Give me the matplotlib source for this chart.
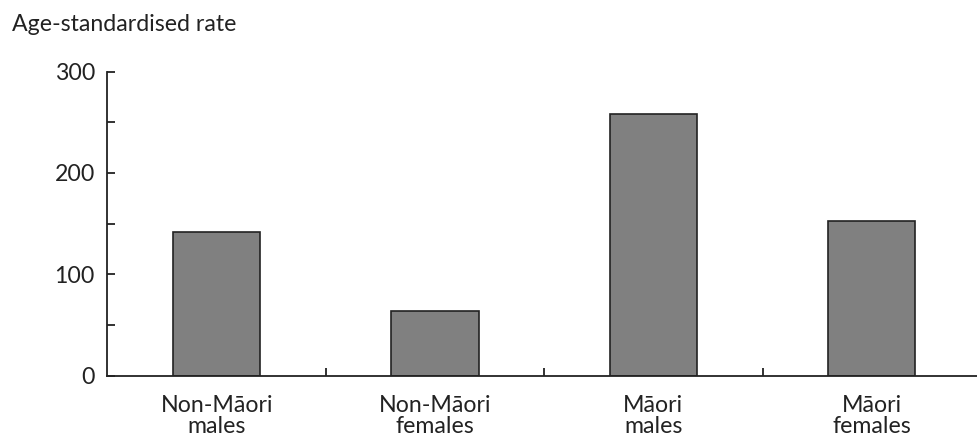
# bar chart of age-standardised rates by ethnicity and sex

import matplotlib
matplotlib.use('Agg')
import matplotlib.pyplot as plt
import numpy as np

# values
categories = ['Non-Māori\nmales', 'Non-Māori\nfemales', 'Māori\nmales', 'Māori\nfemales']
rates = [142, 64, 258, 152]
y_major = [0, 100, 200, 300]
y_minor = [50, 150, 250]

plt.rcParams['font.family'] = ['Lato', 'DejaVu Sans']
plt.rcParams['font.size'] = 16.7

fig = plt.figure(figsize=(9.77, 4.41), dpi=100)
ax = fig.add_axes([0.110, 0.1485, 0.894, 0.6893])

index = np.arange(len(categories))
ax.bar(index, rates, 0.4, color='#808080', edgecolor='#222222', linewidth=1.2)

ax.set_xlim(-0.5, len(categories) - 0.5)
ax.set_ylim(0, 300)

ax.spines['top'].set_visible(False)
ax.spines['right'].set_visible(False)
for s in ['left', 'bottom']:
    ax.spines[s].set_linewidth(1.3)
    ax.spines[s].set_color('#222222')

ax.set_yticks(y_major)
ax.set_yticks(y_minor, minor=True)
ax.tick_params(axis='y', which='both', direction='in', length=5.5, width=1.3,
               color='#222222', labelcolor='#222222', pad=9)

ax.set_xticks(index)
ax.set_xticklabels(categories, linespacing=1.0)
ax.set_xticks(index[:-1] + 0.5, minor=True)
ax.tick_params(axis='x', which='major', length=0, pad=14, labelcolor='#222222')
ax.tick_params(axis='x', which='minor', direction='in', length=5.5, width=1.3,
               color='#222222')

fig.text(12 / 977, 1 - 31 / 441, 'Age-standardised rate', ha='left', va='baseline',
         color='#222222', fontsize=16.7)

fig.savefig('out.png', dpi=100)
